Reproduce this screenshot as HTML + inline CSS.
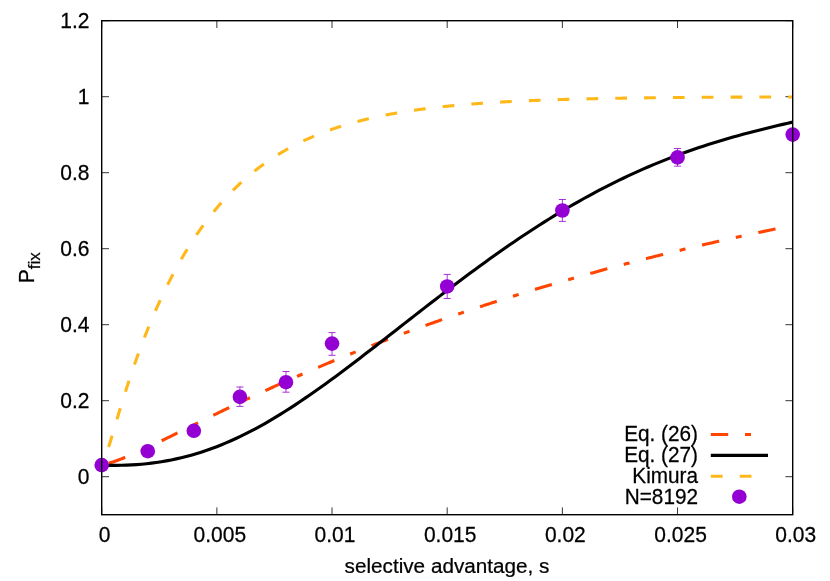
<!DOCTYPE html><html><head><meta charset="utf-8"><style>html,body{margin:0;padding:0;background:#fff}svg{display:block;will-change:transform}text{font-family:"Liberation Sans",sans-serif;fill:#000;stroke:#000;stroke-width:0.25px}</style></head><body>
<svg width="830" height="581" viewBox="0 0 830 581">
<rect width="830" height="581" fill="#fff"/>
<path d="M101.70,514.70 v-7.3 M101.70,20.70 v7.3 M216.87,514.70 v-7.3 M216.87,20.70 v7.3 M332.03,514.70 v-7.3 M332.03,20.70 v7.3 M447.20,514.70 v-7.3 M447.20,20.70 v7.3 M562.37,514.70 v-7.3 M562.37,20.70 v7.3 M677.53,514.70 v-7.3 M677.53,20.70 v7.3 M792.70,514.70 v-7.3 M792.70,20.70 v7.3 M101.70,476.70 h7.3 M792.70,476.70 h-7.3 M101.70,400.70 h7.3 M792.70,400.70 h-7.3 M101.70,324.70 h7.3 M792.70,324.70 h-7.3 M101.70,248.70 h7.3 M792.70,248.70 h-7.3 M101.70,172.70 h7.3 M792.70,172.70 h-7.3 M101.70,96.70 h7.3 M792.70,96.70 h-7.3 M101.70,20.70 h7.3 M792.70,20.70 h-7.3" stroke="#000" stroke-width="0.8" fill="none"/>
<path d="M101.70,465.30 L103.43,464.86 L105.16,464.39 L106.88,463.89 L108.61,463.37 L110.34,462.83 L112.06,462.26 L113.79,461.68 L115.52,461.07 L117.25,460.45 L118.98,459.81 L120.70,459.16 L122.43,458.49 L124.16,457.80 L125.89,457.10 L127.61,456.39 L129.34,455.67 L131.07,454.94 L132.80,454.19 L134.52,453.44 L136.25,452.68 L137.98,451.91 L139.70,451.13 L141.43,450.34 L143.16,449.55 L144.89,448.75 L146.62,447.95 L148.34,447.14 L150.07,446.32 L151.80,445.50 L153.53,444.68 L155.25,443.85 L156.98,443.02 L158.71,442.18 L160.44,441.34 L162.16,440.50 L163.89,439.66 L165.62,438.81 L167.34,437.97 L169.07,437.12 L170.80,436.27 L172.53,435.42 L174.25,434.56 L175.98,433.71 L177.71,432.85 L179.44,432.00 L181.17,431.14 L182.89,430.29 L184.62,429.43 L186.35,428.57 L188.07,427.72 L189.80,426.86 L191.53,426.01 L193.26,425.15 L194.99,424.29 L196.71,423.44 L198.44,422.59 L200.17,421.73 L201.89,420.88 L203.62,420.03 L205.35,419.18 L207.08,418.33 L208.81,417.48 L210.53,416.64 L212.26,415.79 L213.99,414.95 L215.71,414.11 L217.44,413.27 L219.17,412.43 L220.90,411.59 L222.62,410.75 L224.35,409.91 L226.08,409.08 L227.81,408.25 L229.53,407.42 L231.26,406.59 L232.99,405.76 L234.72,404.94 L236.44,404.11 L238.17,403.29 L239.90,402.47 L241.63,401.65 L243.36,400.84 L245.08,400.02 L246.81,399.21 L248.54,398.40 L250.26,397.59 L251.99,396.78 L253.72,395.97 L255.45,395.17 L257.18,394.37 L258.90,393.57 L260.63,392.77 L262.36,391.98 L264.09,391.18 L265.81,390.39 L267.54,389.60 L269.27,388.81 L271.00,388.03 L272.72,387.24 L274.45,386.46 L276.18,385.68 L277.91,384.90 L279.63,384.13 L281.36,383.35 L283.09,382.58 L284.81,381.81 L286.54,381.04 L288.27,380.27 L290.00,379.51 L291.73,378.75 L293.45,377.99 L295.18,377.23 L296.91,376.47 L298.64,375.72 L300.36,374.97 L302.09,374.22 L303.82,373.47 L305.55,372.72 L307.27,371.98 L309.00,371.23 L310.73,370.49 L312.45,369.75 L314.18,369.02 L315.91,368.28 L317.64,367.55 L319.37,366.82 L321.09,366.09 L322.82,365.36 L324.55,364.64 L326.28,363.91 L328.00,363.19 L329.73,362.47 L331.46,361.76 L333.19,361.04 L334.91,360.33 L336.64,359.62 L338.37,358.91 L340.10,358.20 L341.82,357.49 L343.55,356.79 L345.28,356.09 L347.00,355.38 L348.73,354.69 L350.46,353.99 L352.19,353.29 L353.92,352.60 L355.64,351.91 L357.37,351.22 L359.10,350.53 L360.82,349.85 L362.55,349.17 L364.28,348.48 L366.01,347.80 L367.74,347.13 L369.46,346.45 L371.19,345.77 L372.92,345.10 L374.65,344.43 L376.37,343.76 L378.10,343.09 L379.83,342.43 L381.55,341.77 L383.28,341.10 L385.01,340.44 L386.74,339.79 L388.46,339.13 L390.19,338.47 L391.92,337.82 L393.65,337.17 L395.38,336.52 L397.10,335.87 L398.83,335.23 L400.56,334.58 L402.28,333.94 L404.01,333.30 L405.74,332.66 L407.47,332.02 L409.19,331.39 L410.92,330.75 L412.65,330.12 L414.38,329.49 L416.11,328.86 L417.83,328.24 L419.56,327.61 L421.29,326.99 L423.01,326.36 L424.74,325.74 L426.47,325.12 L428.20,324.51 L429.93,323.89 L431.65,323.28 L433.38,322.67 L435.11,322.06 L436.83,321.45 L438.56,320.84 L440.29,320.24 L442.02,319.63 L443.75,319.03 L445.47,318.43 L447.20,317.83 L448.93,317.23 L450.65,316.64 L452.38,316.04 L454.11,315.45 L455.84,314.86 L457.56,314.27 L459.29,313.68 L461.02,313.10 L462.75,312.51 L464.48,311.93 L466.20,311.35 L467.93,310.77 L469.66,310.19 L471.38,309.61 L473.11,309.04 L474.84,308.46 L476.57,307.89 L478.30,307.32 L480.02,306.75 L481.75,306.19 L483.48,305.62 L485.21,305.06 L486.93,304.49 L488.66,303.93 L490.39,303.37 L492.12,302.81 L493.84,302.26 L495.57,301.70 L497.30,301.15 L499.02,300.60 L500.75,300.04 L502.48,299.50 L504.21,298.95 L505.93,298.40 L507.66,297.86 L509.39,297.31 L511.12,296.77 L512.85,296.23 L514.57,295.69 L516.30,295.15 L518.03,294.62 L519.75,294.08 L521.48,293.55 L523.21,293.02 L524.94,292.49 L526.67,291.96 L528.39,291.43 L530.12,290.91 L531.85,290.38 L533.58,289.86 L535.30,289.34 L537.03,288.82 L538.76,288.30 L540.49,287.78 L542.21,287.26 L543.94,286.75 L545.67,286.24 L547.39,285.72 L549.12,285.21 L550.85,284.70 L552.58,284.20 L554.30,283.69 L556.03,283.18 L557.76,282.68 L559.49,282.18 L561.22,281.68 L562.94,281.18 L564.67,280.68 L566.40,280.18 L568.12,279.69 L569.85,279.19 L571.58,278.70 L573.31,278.21 L575.03,277.72 L576.76,277.23 L578.49,276.74 L580.22,276.26 L581.95,275.77 L583.67,275.29 L585.40,274.80 L587.13,274.32 L588.86,273.84 L590.58,273.36 L592.31,272.89 L594.04,272.41 L595.77,271.94 L597.49,271.46 L599.22,270.99 L600.95,270.52 L602.67,270.05 L604.40,269.58 L606.13,269.12 L607.86,268.65 L609.59,268.19 L611.31,267.72 L613.04,267.26 L614.77,266.80 L616.50,266.34 L618.22,265.88 L619.95,265.43 L621.68,264.97 L623.41,264.52 L625.13,264.06 L626.86,263.61 L628.59,263.16 L630.32,262.71 L632.04,262.26 L633.77,261.81 L635.50,261.37 L637.23,260.92 L638.95,260.48 L640.68,260.04 L642.41,259.60 L644.14,259.16 L645.86,258.72 L647.59,258.28 L649.32,257.84 L651.04,257.41 L652.77,256.97 L654.50,256.54 L656.23,256.11 L657.96,255.68 L659.68,255.25 L661.41,254.82 L663.14,254.39 L664.87,253.97 L666.59,253.54 L668.32,253.12 L670.05,252.70 L671.78,252.28 L673.50,251.85 L675.23,251.44 L676.96,251.02 L678.69,250.60 L680.41,250.19 L682.14,249.77 L683.87,249.36 L685.60,248.94 L687.32,248.53 L689.05,248.12 L690.78,247.71 L692.50,247.31 L694.23,246.90 L695.96,246.49 L697.69,246.09 L699.42,245.69 L701.14,245.28 L702.87,244.88 L704.60,244.48 L706.33,244.08 L708.05,243.68 L709.78,243.29 L711.51,242.89 L713.24,242.50 L714.96,242.10 L716.69,241.71 L718.42,241.32 L720.15,240.93 L721.87,240.54 L723.60,240.15 L725.33,239.76 L727.05,239.38 L728.78,238.99 L730.51,238.61 L732.24,238.22 L733.97,237.84 L735.69,237.46 L737.42,237.08 L739.15,236.70 L740.88,236.32 L742.60,235.94 L744.33,235.57 L746.06,235.19 L747.78,234.82 L749.51,234.45 L751.24,234.07 L752.97,233.70 L754.70,233.33 L756.42,232.96 L758.15,232.60 L759.88,232.23 L761.61,231.86 L763.33,231.50 L765.06,231.13 L766.79,230.77 L768.52,230.41 L770.24,230.05 L771.97,229.69 L773.70,229.33 L775.43,228.97 L777.15,228.61 L778.88,228.26 L780.61,227.90 L782.34,227.55 L784.06,227.19 L785.79,226.84 L787.52,226.49 L789.25,226.14 L790.97,225.79 L792.70,225.44" stroke="#ff4500" stroke-width="3.1" fill="none" stroke-dasharray="17.6 17 6 17.03" stroke-dashoffset="50.36"/>
<path d="M101.70,465.30 L106.67,465.39 L111.64,465.42 L116.61,465.39 L121.58,465.30 L126.56,465.13 L131.53,464.89 L136.50,464.58 L141.47,464.18 L146.44,463.70 L151.41,463.13 L156.38,462.47 L161.35,461.71 L166.33,460.87 L171.30,459.93 L176.27,458.89 L181.24,457.75 L186.21,456.51 L191.18,455.17 L196.15,453.73 L201.12,452.18 L206.10,450.53 L211.07,448.78 L216.04,446.93 L221.01,444.98 L225.98,442.92 L230.95,440.77 L235.92,438.52 L240.89,436.17 L245.87,433.72 L250.84,431.18 L255.81,428.55 L260.78,425.83 L265.75,423.03 L270.72,420.14 L275.69,417.18 L280.66,414.13 L285.64,411.02 L290.61,407.83 L295.58,404.58 L300.55,401.27 L305.52,397.90 L310.49,394.47 L315.46,390.99 L320.43,387.47 L325.41,383.90 L330.38,380.29 L335.35,376.64 L340.32,372.95 L345.29,369.23 L350.26,365.49 L355.23,361.71 L360.20,357.92 L365.17,354.10 L370.15,350.27 L375.12,346.42 L380.09,342.55 L385.06,338.68 L390.03,334.80 L395.00,330.92 L399.97,327.03 L404.94,323.15 L409.92,319.26 L414.89,315.38 L419.86,311.51 L424.83,307.64 L429.80,303.79 L434.77,299.95 L439.74,296.12 L444.71,292.31 L449.69,288.52 L454.66,284.75 L459.63,281.01 L464.60,277.28 L469.57,273.58 L474.54,269.91 L479.51,266.27 L484.48,262.66 L489.46,259.08 L494.43,255.53 L499.40,252.01 L504.37,248.53 L509.34,245.09 L514.31,241.69 L519.28,238.32 L524.25,235.00 L529.23,231.71 L534.20,228.47 L539.17,225.27 L544.14,222.11 L549.11,219.00 L554.08,215.93 L559.05,212.91 L564.02,209.93 L568.99,207.01 L573.97,204.12 L578.94,201.29 L583.91,198.51 L588.88,195.77 L593.85,193.08 L598.82,190.44 L603.79,187.85 L608.76,185.31 L613.74,182.82 L618.71,180.38 L623.68,177.98 L628.65,175.64 L633.62,173.35 L638.59,171.10 L643.56,168.90 L648.53,166.76 L653.51,164.66 L658.48,162.60 L663.45,160.60 L668.42,158.64 L673.39,156.72 L678.36,154.85 L683.33,153.03 L688.30,151.25 L693.28,149.51 L698.25,147.82 L703.22,146.17 L708.19,144.55 L713.16,142.98 L718.13,141.45 L723.10,139.95 L728.07,138.49 L733.05,137.06 L738.02,135.66 L742.99,134.30 L747.96,132.97 L752.93,131.67 L757.90,130.40 L762.87,129.15 L767.84,127.92 L772.82,126.72 L777.79,125.54 L782.76,124.38 L787.73,123.24 L792.70,122.12" stroke="#000" stroke-width="3.1" fill="none"/>
<path d="M101.70,465.30 L102.28,464.13 L102.85,462.89 L103.43,461.58 L104.00,460.20 L104.58,458.76 L105.16,457.26 L105.73,455.69 L106.31,454.08 L106.88,452.41 L107.46,450.70 L108.03,448.95 L108.61,447.16 L109.19,445.34 L109.76,443.49 L110.34,441.62 L110.91,439.73 L111.49,437.82 L112.06,435.89 L112.64,433.96 L113.22,432.02 L113.79,430.07 L114.37,428.12 L114.94,426.17 L115.52,424.22 L116.10,422.27 L116.67,420.32 L117.25,418.38 L117.82,416.45 L118.40,414.52 L118.97,412.60 L119.55,410.68 L120.13,408.78 L120.70,406.88 L121.28,404.99 L121.85,403.12 L122.43,401.25 L123.01,399.39 L123.58,397.54 L124.16,395.71 L124.73,393.88 L125.31,392.06 L125.89,390.26 L126.46,388.46 L127.04,386.68 L127.61,384.90 L128.19,383.14 L128.76,381.38 L129.34,379.64 L129.92,377.91 L130.49,376.19 L131.07,374.48 L131.64,372.78 L132.22,371.08 L132.80,369.40 L133.37,367.73 L133.95,366.07 L134.52,364.42 L135.10,362.79 L135.67,361.16 L136.25,359.54 L136.83,357.93 L137.40,356.33 L137.98,354.74 L138.55,353.16 L139.13,351.58 L139.71,350.02 L140.28,348.47 L140.86,346.93 L141.43,345.40 L142.01,343.87 L142.58,342.36 L143.16,340.85 L143.74,339.36 L144.31,337.87 L144.89,336.40 L145.46,334.93 L146.04,333.47 L146.62,332.02 L147.19,330.58 L147.77,329.14 L148.34,327.72 L148.92,326.31 L149.49,324.90 L150.07,323.50 L150.65,322.11 L151.22,320.73 L151.80,319.36 L152.37,318.00 L152.95,316.64 L153.53,315.29 L154.10,313.95 L154.68,312.62 L155.25,311.30 L155.83,309.99 L156.40,308.68 L156.98,307.38 L157.56,306.09 L158.13,304.81 L158.71,303.53 L159.28,302.27 L159.86,301.01 L160.44,299.76 L161.01,298.51 L161.59,297.28 L162.16,296.05 L162.74,294.83 L163.31,293.61 L163.89,292.41 L164.47,291.21 L165.04,290.02 L165.62,288.83 L166.19,287.66 L166.77,286.49 L167.34,285.32 L167.92,284.17 L168.50,283.02 L169.07,281.88 L169.65,280.74 L170.22,279.62 L170.80,278.50 L171.38,277.38 L171.95,276.28 L172.53,275.18 L173.10,274.08 L173.68,273.00 L174.25,271.92 L174.83,270.84 L175.41,269.78 L175.98,268.72 L176.56,267.66 L177.13,266.62 L177.71,265.58 L178.29,264.54 L178.86,263.51 L179.44,262.49 L180.01,261.48 L180.59,260.47 L181.17,259.46 L181.74,258.47 L182.32,257.48 L182.89,256.49 L183.47,255.51 L184.04,254.54 L184.62,253.57 L185.20,252.61 L185.77,251.66 L186.35,250.71 L186.92,249.76 L187.50,248.83 L188.07,247.90 L188.65,246.97 L189.23,246.05 L189.80,245.13 L190.38,244.22 L190.95,243.32 L191.53,242.42 L192.11,241.53 L192.68,240.64 L193.26,239.76 L193.83,238.89 L194.41,238.01 L194.99,237.15 L195.56,236.29 L196.14,235.43 L196.71,234.58 L197.29,233.74 L197.86,232.90 L198.44,232.07 L199.02,231.24 L199.59,230.41 L200.17,229.59 L200.74,228.78 L201.32,227.97 L201.89,227.17 L202.47,226.37 L203.05,225.57 L203.62,224.78 L204.20,224.00 L204.77,223.22 L205.35,222.44 L205.93,221.67 L206.50,220.91 L207.08,220.15 L207.65,219.39 L208.23,218.64 L208.81,217.89 L209.38,217.15 L209.96,216.41 L210.53,215.68 L211.11,214.95 L211.68,214.23 L212.26,213.51 L212.84,212.79 L213.41,212.08 L213.99,211.37 L214.56,210.67 L215.14,209.97 L215.71,209.28 L216.29,208.59 L216.87,207.90 L217.44,207.22 L218.02,206.55 L218.59,205.87 L219.17,205.20 L219.75,204.54 L220.32,203.88 L220.90,203.22 L221.47,202.57 L222.05,201.92 L222.62,201.28 L223.20,200.64 L223.78,200.00 L224.35,199.37 L224.93,198.74 L225.50,198.11 L226.08,197.49 L226.66,196.88 L227.23,196.26 L227.81,195.65 L228.38,195.05 L228.96,194.44 L229.54,193.84 L230.11,193.25 L230.69,192.66 L231.26,192.07 L231.84,191.49 L232.41,190.91 L232.99,190.33 L233.57,189.76 L234.14,189.19 L234.72,188.62 L235.29,188.06 L235.87,187.50 L236.44,186.94 L237.02,186.39 L237.60,185.84 L238.17,185.29 L238.75,184.75 L239.32,184.21 L239.90,183.67 L240.48,183.14 L241.05,182.61 L241.63,182.09 L242.20,181.56 L242.78,181.04 L243.36,180.53 L243.93,180.01 L244.51,179.50 L245.08,179.00 L245.66,178.49 L246.23,177.99 L246.81,177.49 L247.39,177.00 L247.96,176.51 L248.54,176.02 L249.11,175.53 L249.69,175.05 L250.26,174.57 L250.84,174.09 L251.42,173.62 L251.99,173.15 L252.57,172.68 L253.14,172.21 L253.72,171.75 L254.30,171.29 L254.87,170.83 L255.45,170.38 L256.02,169.93 L256.60,169.48 L257.18,169.03 L257.75,168.59 L258.33,168.15 L258.90,167.71 L259.48,167.28 L260.05,166.85 L260.63,166.42 L261.21,165.99 L261.78,165.56 L262.36,165.14 L262.93,164.72 L263.51,164.31 L264.08,163.89 L264.66,163.48 L265.24,163.07 L265.81,162.67 L266.39,162.26 L266.96,161.86 L267.54,161.46 L268.12,161.06 L268.69,160.67 L269.27,160.28 L269.84,159.89 L270.42,159.50 L271.00,159.12 L271.57,158.73 L272.15,158.35 L272.72,157.98 L273.30,157.60 L273.87,157.23 L274.45,156.86 L275.03,156.49 L275.60,156.12 L276.18,155.76 L276.75,155.40 L277.33,155.04 L277.91,154.68 L278.48,154.33 L279.06,153.97 L279.63,153.62 L280.21,153.27 L280.78,152.93 L281.36,152.58 L281.94,152.24 L282.51,151.90 L283.09,151.56 L283.66,151.23 L284.24,150.89 L284.81,150.56 L285.39,150.23 L285.97,149.90 L286.54,149.58 L287.12,149.25 L287.69,148.93 L288.27,148.61 L288.85,148.29 L289.42,147.98 L290.00,147.66 L290.57,147.35 L291.15,147.04 L291.73,146.73 L292.30,146.42 L292.88,146.12 L293.45,145.82 L294.03,145.52 L294.60,145.22 L295.18,144.92 L295.76,144.63 L296.33,144.33 L296.91,144.04 L297.48,143.75 L298.06,143.46 L298.64,143.18 L299.21,142.89 L299.79,142.61 L300.36,142.33 L300.94,142.05 L301.51,141.77 L302.09,141.49 L302.67,141.22 L303.24,140.95 L303.82,140.68 L304.39,140.41 L304.97,140.14 L305.55,139.87 L306.12,139.61 L306.70,139.34 L307.27,139.08 L307.85,138.82 L308.42,138.57 L309.00,138.31 L309.58,138.05 L310.15,137.80 L310.73,137.55 L311.30,137.30 L311.88,137.05 L312.45,136.80 L313.03,136.56 L313.61,136.31 L314.18,136.07 L314.76,135.83 L315.33,135.59 L315.91,135.35 L316.49,135.12 L317.06,134.88 L317.64,134.65 L318.21,134.41 L318.79,134.18 L319.37,133.95 L319.94,133.73 L320.52,133.50 L321.09,133.27 L321.67,133.05 L322.24,132.83 L322.82,132.60 L323.40,132.39 L323.97,132.17 L324.55,131.95 L325.12,131.73 L325.70,131.52 L326.28,131.31 L326.85,131.09 L327.43,130.88 L328.00,130.67 L328.58,130.47 L329.15,130.26 L329.73,130.05 L330.31,129.85 L330.88,129.65 L331.46,129.44 L332.03,129.24 L332.61,129.04 L333.19,128.85 L333.76,128.65 L334.34,128.45 L334.91,128.26 L335.49,128.07 L336.06,127.87 L336.64,127.68 L337.22,127.49 L337.79,127.30 L338.37,127.12 L338.94,126.93 L339.52,126.75 L340.10,126.56 L340.67,126.38 L341.25,126.20 L341.82,126.02 L342.40,125.84 L342.97,125.66 L343.55,125.48 L344.13,125.30 L344.70,125.13 L345.28,124.95 L345.85,124.78 L346.43,124.61 L347.00,124.44 L347.58,124.27 L348.16,124.10 L348.73,123.93 L349.31,123.77 L349.88,123.60 L350.46,123.43 L351.04,123.27 L351.61,123.11 L352.19,122.95 L352.76,122.79 L353.34,122.63 L353.92,122.47 L354.49,122.31 L355.07,122.15 L355.64,122.00 L356.22,121.84 L356.79,121.69 L357.37,121.53 L357.95,121.38 L358.52,121.23 L359.10,121.08 L359.67,120.93 L360.25,120.78 L360.82,120.64 L361.40,120.49 L361.98,120.34 L362.55,120.20 L363.13,120.05 L363.70,119.91 L364.28,119.77 L364.86,119.63 L365.43,119.49 L366.01,119.35 L366.58,119.21 L367.16,119.07 L367.74,118.93 L368.31,118.80 L368.89,118.66 L369.46,118.53 L370.04,118.39 L370.61,118.26 L371.19,118.13 L371.77,118.00 L372.34,117.87 L372.92,117.74 L373.49,117.61 L374.07,117.48 L374.64,117.35 L375.22,117.23 L375.80,117.10 L376.37,116.98 L376.95,116.85 L377.52,116.73 L378.10,116.61 L378.68,116.48 L379.25,116.36 L379.83,116.24 L380.40,116.12 L380.98,116.00 L381.55,115.89 L382.13,115.77 L382.71,115.65 L383.28,115.54 L383.86,115.42 L384.43,115.31 L385.01,115.19 L385.59,115.08 L386.16,114.97 L386.74,114.85 L387.31,114.74 L387.89,114.63 L388.46,114.52 L389.04,114.41 L389.62,114.30 L390.19,114.20 L390.77,114.09 L391.34,113.98 L391.92,113.88 L392.50,113.77 L393.07,113.67 L393.65,113.56 L394.22,113.46 L394.80,113.36 L395.38,113.26 L395.95,113.15 L396.53,113.05 L397.10,112.95 L397.68,112.85 L398.25,112.75 L398.83,112.66 L399.41,112.56 L399.98,112.46 L400.56,112.37 L401.13,112.27 L401.71,112.17 L402.29,112.08 L402.86,111.98 L403.44,111.89 L404.01,111.80 L404.59,111.71 L405.16,111.61 L405.74,111.52 L406.32,111.43 L406.89,111.34 L407.47,111.25 L408.04,111.16 L408.62,111.07 L409.19,110.99 L409.77,110.90 L410.35,110.81 L410.92,110.73 L411.50,110.64 L412.07,110.55 L412.65,110.47 L413.23,110.38 L413.80,110.30 L414.38,110.22 L414.95,110.13 L415.53,110.05 L416.10,109.97 L416.68,109.89 L417.26,109.81 L417.83,109.73 L418.41,109.65 L418.98,109.57 L419.56,109.49 L420.14,109.41 L420.71,109.33 L421.29,109.26 L421.86,109.18 L422.44,109.10 L423.01,109.03 L423.59,108.95 L424.17,108.88 L424.74,108.80 L425.32,108.73 L425.89,108.65 L426.47,108.58 L427.05,108.51 L427.62,108.44 L428.20,108.36 L428.77,108.29 L429.35,108.22 L429.92,108.15 L430.50,108.08 L431.08,108.01 L431.65,107.94 L432.23,107.87 L432.80,107.80 L433.38,107.74 L433.96,107.67 L434.53,107.60 L435.11,107.54 L435.68,107.47 L436.26,107.40 L436.84,107.34 L437.41,107.27 L437.99,107.21 L438.56,107.14 L439.14,107.08 L439.71,107.02 L440.29,106.95 L440.87,106.89 L441.44,106.83 L442.02,106.77 L442.59,106.70 L443.17,106.64 L443.75,106.58 L444.32,106.52 L444.90,106.46 L445.47,106.40 L446.05,106.34 L446.62,106.28 L447.20,106.22 L447.78,106.17 L448.35,106.11 L448.93,106.05 L449.50,105.99 L450.08,105.94 L450.65,105.88 L451.23,105.82 L451.81,105.77 L452.38,105.71 L452.96,105.66 L453.53,105.60 L454.11,105.55 L454.69,105.49 L455.26,105.44 L455.84,105.39 L456.41,105.33 L456.99,105.28 L457.56,105.23 L458.14,105.17 L458.72,105.12 L459.29,105.07 L459.87,105.02 L460.44,104.97 L461.02,104.92 L461.60,104.87 L462.17,104.82 L462.75,104.77 L463.32,104.72 L463.90,104.67 L464.48,104.62 L465.05,104.57 L465.63,104.52 L466.20,104.48 L466.78,104.43 L467.35,104.38 L467.93,104.33 L468.51,104.29 L469.08,104.24 L469.66,104.19 L470.23,104.15 L470.81,104.10 L471.38,104.06 L471.96,104.01 L472.54,103.97 L473.11,103.92 L473.69,103.88 L474.26,103.83 L474.84,103.79 L475.42,103.75 L475.99,103.70 L476.57,103.66 L477.14,103.62 L477.72,103.58 L478.30,103.53 L478.87,103.49 L479.45,103.45 L480.02,103.41 L480.60,103.37 L481.17,103.33 L481.75,103.29 L482.33,103.25 L482.90,103.21 L483.48,103.17 L484.05,103.13 L484.63,103.09 L485.21,103.05 L485.78,103.01 L486.36,102.97 L486.93,102.93 L487.51,102.89 L488.08,102.86 L488.66,102.82 L489.24,102.78 L489.81,102.74 L490.39,102.71 L490.96,102.67 L491.54,102.63 L492.12,102.60 L492.69,102.56 L493.27,102.53 L493.84,102.49 L494.42,102.45 L494.99,102.42 L495.57,102.38 L496.15,102.35 L496.72,102.31 L497.30,102.28 L497.87,102.25 L498.45,102.21 L499.02,102.18 L499.60,102.14 L500.18,102.11 L500.75,102.08 L501.33,102.05 L501.90,102.01 L502.48,101.98 L503.06,101.95 L503.63,101.92 L504.21,101.88 L504.78,101.85 L505.36,101.82 L505.93,101.79 L506.51,101.76 L507.09,101.73 L507.66,101.70 L508.24,101.67 L508.81,101.64 L509.39,101.60 L509.97,101.57 L510.54,101.54 L511.12,101.52 L511.69,101.49 L512.27,101.46 L512.85,101.43 L513.42,101.40 L514.00,101.37 L514.57,101.34 L515.15,101.31 L515.72,101.28 L516.30,101.26 L516.88,101.23 L517.45,101.20 L518.03,101.17 L518.60,101.15 L519.18,101.12 L519.75,101.09 L520.33,101.06 L520.91,101.04 L521.48,101.01 L522.06,100.98 L522.63,100.96 L523.21,100.93 L523.79,100.91 L524.36,100.88 L524.94,100.86 L525.51,100.83 L526.09,100.80 L526.67,100.78 L527.24,100.75 L527.82,100.73 L528.39,100.70 L528.97,100.68 L529.54,100.66 L530.12,100.63 L530.70,100.61 L531.27,100.58 L531.85,100.56 L532.42,100.54 L533.00,100.51 L533.58,100.49 L534.15,100.47 L534.73,100.44 L535.30,100.42 L535.88,100.40 L536.45,100.37 L537.03,100.35 L537.61,100.33 L538.18,100.31 L538.76,100.29 L539.33,100.26 L539.91,100.24 L540.49,100.22 L541.06,100.20 L541.64,100.18 L542.21,100.16 L542.79,100.13 L543.36,100.11 L543.94,100.09 L544.52,100.07 L545.09,100.05 L545.67,100.03 L546.24,100.01 L546.82,99.99 L547.39,99.97 L547.97,99.95 L548.55,99.93 L549.12,99.91 L549.70,99.89 L550.27,99.87 L550.85,99.85 L551.43,99.83 L552.00,99.81 L552.58,99.79 L553.15,99.77 L553.73,99.76 L554.30,99.74 L554.88,99.72 L555.46,99.70 L556.03,99.68 L556.61,99.66 L557.18,99.65 L557.76,99.63 L558.34,99.61 L558.91,99.59 L559.49,99.57 L560.06,99.56 L560.64,99.54 L561.22,99.52 L561.79,99.50 L562.37,99.49 L562.94,99.47 L563.52,99.45 L564.09,99.44 L564.67,99.42 L565.25,99.40 L565.82,99.39 L566.40,99.37 L566.97,99.35 L567.55,99.34 L568.12,99.32 L568.70,99.30 L569.28,99.29 L569.85,99.27 L570.43,99.26 L571.00,99.24 L571.58,99.23 L572.16,99.21 L572.73,99.20 L573.31,99.18 L573.88,99.16 L574.46,99.15 L575.03,99.13 L575.61,99.12 L576.19,99.10 L576.76,99.09 L577.34,99.08 L577.91,99.06 L578.49,99.05 L579.07,99.03 L579.64,99.02 L580.22,99.00 L580.79,98.99 L581.37,98.98 L581.95,98.96 L582.52,98.95 L583.10,98.93 L583.67,98.92 L584.25,98.91 L584.82,98.89 L585.40,98.88 L585.98,98.87 L586.55,98.85 L587.13,98.84 L587.70,98.83 L588.28,98.81 L588.86,98.80 L589.43,98.79 L590.01,98.78 L590.58,98.76 L591.16,98.75 L591.73,98.74 L592.31,98.72 L592.89,98.71 L593.46,98.70 L594.04,98.69 L594.61,98.68 L595.19,98.66 L595.77,98.65 L596.34,98.64 L596.92,98.63 L597.49,98.62 L598.07,98.60 L598.64,98.59 L599.22,98.58 L599.80,98.57 L600.37,98.56 L600.95,98.55 L601.52,98.54 L602.10,98.52 L602.67,98.51 L603.25,98.50 L603.83,98.49 L604.40,98.48 L604.98,98.47 L605.55,98.46 L606.13,98.45 L606.71,98.44 L607.28,98.43 L607.86,98.42 L608.43,98.40 L609.01,98.39 L609.58,98.38 L610.16,98.37 L610.74,98.36 L611.31,98.35 L611.89,98.34 L612.46,98.33 L613.04,98.32 L613.62,98.31 L614.19,98.30 L614.77,98.29 L615.34,98.28 L615.92,98.27 L616.50,98.26 L617.07,98.25 L617.65,98.25 L618.22,98.24 L618.80,98.23 L619.37,98.22 L619.95,98.21 L620.53,98.20 L621.10,98.19 L621.68,98.18 L622.25,98.17 L622.83,98.16 L623.41,98.15 L623.98,98.14 L624.56,98.14 L625.13,98.13 L625.71,98.12 L626.28,98.11 L626.86,98.10 L627.44,98.09 L628.01,98.08 L628.59,98.07 L629.16,98.07 L629.74,98.06 L630.32,98.05 L630.89,98.04 L631.47,98.03 L632.04,98.03 L632.62,98.02 L633.19,98.01 L633.77,98.00 L634.35,97.99 L634.92,97.99 L635.50,97.98 L636.07,97.97 L636.65,97.96 L637.23,97.95 L637.80,97.95 L638.38,97.94 L638.95,97.93 L639.53,97.92 L640.10,97.92 L640.68,97.91 L641.26,97.90 L641.83,97.89 L642.41,97.89 L642.98,97.88 L643.56,97.87 L644.13,97.86 L644.71,97.86 L645.29,97.85 L645.86,97.84 L646.44,97.84 L647.01,97.83 L647.59,97.82 L648.17,97.82 L648.74,97.81 L649.32,97.80 L649.89,97.80 L650.47,97.79 L651.04,97.78 L651.62,97.78 L652.20,97.77 L652.77,97.76 L653.35,97.76 L653.92,97.75 L654.50,97.74 L655.08,97.74 L655.65,97.73 L656.23,97.72 L656.80,97.72 L657.38,97.71 L657.96,97.71 L658.53,97.70 L659.11,97.69 L659.68,97.69 L660.26,97.68 L660.83,97.67 L661.41,97.67 L661.99,97.66 L662.56,97.66 L663.14,97.65 L663.71,97.65 L664.29,97.64 L664.87,97.63 L665.44,97.63 L666.02,97.62 L666.59,97.62 L667.17,97.61 L667.74,97.61 L668.32,97.60 L668.90,97.59 L669.47,97.59 L670.05,97.58 L670.62,97.58 L671.20,97.57 L671.77,97.57 L672.35,97.56 L672.93,97.56 L673.50,97.55 L674.08,97.55 L674.65,97.54 L675.23,97.54 L675.81,97.53 L676.38,97.53 L676.96,97.52 L677.53,97.52 L678.11,97.51 L678.69,97.51 L679.26,97.50 L679.84,97.50 L680.41,97.49 L680.99,97.49 L681.56,97.48 L682.14,97.48 L682.72,97.47 L683.29,97.47 L683.87,97.46 L684.44,97.46 L685.02,97.45 L685.60,97.45 L686.17,97.44 L686.75,97.44 L687.32,97.43 L687.90,97.43 L688.47,97.43 L689.05,97.42 L689.63,97.42 L690.20,97.41 L690.78,97.41 L691.35,97.40 L691.93,97.40 L692.50,97.40 L693.08,97.39 L693.66,97.39 L694.23,97.38 L694.81,97.38 L695.38,97.37 L695.96,97.37 L696.54,97.37 L697.11,97.36 L697.69,97.36 L698.26,97.35 L698.84,97.35 L699.42,97.35 L699.99,97.34 L700.57,97.34 L701.14,97.33 L701.72,97.33 L702.29,97.33 L702.87,97.32 L703.45,97.32 L704.02,97.31 L704.60,97.31 L705.17,97.31 L705.75,97.30 L706.33,97.30 L706.90,97.30 L707.48,97.29 L708.05,97.29 L708.63,97.29 L709.20,97.28 L709.78,97.28 L710.36,97.27 L710.93,97.27 L711.51,97.27 L712.08,97.26 L712.66,97.26 L713.24,97.26 L713.81,97.25 L714.39,97.25 L714.96,97.25 L715.54,97.24 L716.11,97.24 L716.69,97.24 L717.27,97.23 L717.84,97.23 L718.42,97.23 L718.99,97.22 L719.57,97.22 L720.15,97.22 L720.72,97.21 L721.30,97.21 L721.87,97.21 L722.45,97.21 L723.02,97.20 L723.60,97.20 L724.18,97.20 L724.75,97.19 L725.33,97.19 L725.90,97.19 L726.48,97.18 L727.05,97.18 L727.63,97.18 L728.21,97.17 L728.78,97.17 L729.36,97.17 L729.93,97.17 L730.51,97.16 L731.09,97.16 L731.66,97.16 L732.24,97.15 L732.81,97.15 L733.39,97.15 L733.97,97.15 L734.54,97.14 L735.12,97.14 L735.69,97.14 L736.27,97.14 L736.84,97.13 L737.42,97.13 L738.00,97.13 L738.57,97.13 L739.15,97.12 L739.72,97.12 L740.30,97.12 L740.88,97.11 L741.45,97.11 L742.03,97.11 L742.60,97.11 L743.18,97.10 L743.75,97.10 L744.33,97.10 L744.91,97.10 L745.48,97.10 L746.06,97.09 L746.63,97.09 L747.21,97.09 L747.78,97.09 L748.36,97.08 L748.94,97.08 L749.51,97.08 L750.09,97.08 L750.66,97.07 L751.24,97.07 L751.82,97.07 L752.39,97.07 L752.97,97.06 L753.54,97.06 L754.12,97.06 L754.70,97.06 L755.27,97.06 L755.85,97.05 L756.42,97.05 L757.00,97.05 L757.57,97.05 L758.15,97.05 L758.73,97.04 L759.30,97.04 L759.88,97.04 L760.45,97.04 L761.03,97.03 L761.60,97.03 L762.18,97.03 L762.76,97.03 L763.33,97.03 L763.91,97.02 L764.48,97.02 L765.06,97.02 L765.64,97.02 L766.21,97.02 L766.79,97.01 L767.36,97.01 L767.94,97.01 L768.52,97.01 L769.09,97.01 L769.67,97.01 L770.24,97.00 L770.82,97.00 L771.39,97.00 L771.97,97.00 L772.55,97.00 L773.12,96.99 L773.70,96.99 L774.27,96.99 L774.85,96.99 L775.43,96.99 L776.00,96.99 L776.58,96.98 L777.15,96.98 L777.73,96.98 L778.30,96.98 L778.88,96.98 L779.46,96.97 L780.03,96.97 L780.61,96.97 L781.18,96.97 L781.76,96.97 L782.34,96.97 L782.91,96.96 L783.49,96.96 L784.06,96.96 L784.64,96.96 L785.21,96.96 L785.79,96.96 L786.37,96.96 L786.94,96.95 L787.52,96.95 L788.09,96.95 L788.67,96.95 L789.25,96.95 L789.82,96.95 L790.40,96.94 L790.97,96.94 L791.55,96.94 L792.12,96.94 L792.70,96.94" stroke="#ffb81a" stroke-width="3.1" fill="none" stroke-dasharray="11.7 17.12" stroke-dashoffset="9.23"/>
<circle cx="101.70" cy="465.10" r="7.3" fill="#9400d3"/>
<circle cx="147.77" cy="451.20" r="7.3" fill="#9400d3"/>
<circle cx="193.83" cy="430.80" r="7.3" fill="#9400d3"/>
<path d="M239.90,387.00 V406.40 M236.35,387.00 h7.1 M236.35,406.40 h7.1" stroke="#9400d3" stroke-width="0.8" fill="none"/>
<circle cx="239.90" cy="396.85" r="7.3" fill="#9400d3"/>
<path d="M285.97,371.50 V392.20 M282.42,371.50 h7.1 M282.42,392.20 h7.1" stroke="#9400d3" stroke-width="0.8" fill="none"/>
<circle cx="285.97" cy="382.20" r="7.3" fill="#9400d3"/>
<path d="M332.03,332.60 V355.30 M328.48,332.60 h7.1 M328.48,355.30 h7.1" stroke="#9400d3" stroke-width="0.8" fill="none"/>
<circle cx="332.03" cy="343.60" r="7.3" fill="#9400d3"/>
<path d="M447.20,274.40 V298.50 M443.65,274.40 h7.1 M443.65,298.50 h7.1" stroke="#9400d3" stroke-width="0.8" fill="none"/>
<circle cx="447.20" cy="286.45" r="7.3" fill="#9400d3"/>
<path d="M562.37,199.50 V221.40 M558.82,199.50 h7.1 M558.82,221.40 h7.1" stroke="#9400d3" stroke-width="0.8" fill="none"/>
<circle cx="562.37" cy="210.50" r="7.3" fill="#9400d3"/>
<path d="M677.53,148.50 V166.15 M673.98,148.50 h7.1 M673.98,166.15 h7.1" stroke="#9400d3" stroke-width="0.8" fill="none"/>
<circle cx="677.53" cy="157.40" r="7.3" fill="#9400d3"/>
<circle cx="792.70" cy="134.60" r="7.3" fill="#9400d3"/>
<rect x="101.70" y="20.70" width="691.00" height="494.00" fill="none" stroke="#000" stroke-width="1.4"/>
<text transform="translate(89.50,484.05) scale(1,1.075)" text-anchor="end" font-size="21">0</text>
<text transform="translate(89.50,408.05) scale(1,1.075)" text-anchor="end" font-size="21">0.2</text>
<text transform="translate(89.50,332.05) scale(1,1.075)" text-anchor="end" font-size="21">0.4</text>
<text transform="translate(89.50,256.05) scale(1,1.075)" text-anchor="end" font-size="21">0.6</text>
<text transform="translate(89.50,180.05) scale(1,1.075)" text-anchor="end" font-size="21">0.8</text>
<text transform="translate(89.50,104.05) scale(1,1.075)" text-anchor="end" font-size="21">1</text>
<text transform="translate(89.50,28.05) scale(1,1.075)" text-anchor="end" font-size="21">1.2</text>
<text transform="translate(104.70,542.40) scale(1,1.075)" text-anchor="middle" font-size="21">0</text>
<text transform="translate(219.87,542.40) scale(1,1.075)" text-anchor="middle" font-size="21">0.005</text>
<text transform="translate(335.03,542.40) scale(1,1.075)" text-anchor="middle" font-size="21">0.01</text>
<text transform="translate(450.20,542.40) scale(1,1.075)" text-anchor="middle" font-size="21">0.015</text>
<text transform="translate(565.37,542.40) scale(1,1.075)" text-anchor="middle" font-size="21">0.02</text>
<text transform="translate(680.53,542.40) scale(1,1.075)" text-anchor="middle" font-size="21">0.025</text>
<text transform="translate(795.70,542.40) scale(1,1.075)" text-anchor="middle" font-size="21">0.03</text>
<text transform="translate(447.00,573.00) scale(1,0.975)" text-anchor="middle" font-size="20.7">selective advantage, s</text>
<text transform="translate(33.9,283.2) rotate(-90) scale(1,1.04)" font-size="21">P</text>
<text transform="translate(39.9,269.20) rotate(-90) scale(1,0.96)" font-size="17">fix</text>
<text transform="translate(698.00,441.40) scale(1,1.03)" text-anchor="end" font-size="20.75">Eq. (26)</text>
<text transform="translate(698.00,462.20) scale(1,1.03)" text-anchor="end" font-size="20.75">Eq. (27)</text>
<text transform="translate(698.00,483.00) scale(1,1.03)" text-anchor="end" font-size="20.75">Kimura</text>
<text transform="translate(698.00,503.80) scale(1,1.03)" text-anchor="end" font-size="20.75">N=8192</text>
<path d="M710.8,434.5 h17.4 m16.8,0 h6" stroke="#ff4500" stroke-width="3.1" fill="none"/>
<path d="M710.8,455.4 H768" stroke="#000" stroke-width="3.1" fill="none"/>
<path d="M710.8,476.3 h11.8 m17.1,0 h11.8" stroke="#ffb81a" stroke-width="3.1" fill="none"/>
<circle cx="739.3" cy="496.7" r="7.3" fill="#9400d3"/>
</svg></body></html>
